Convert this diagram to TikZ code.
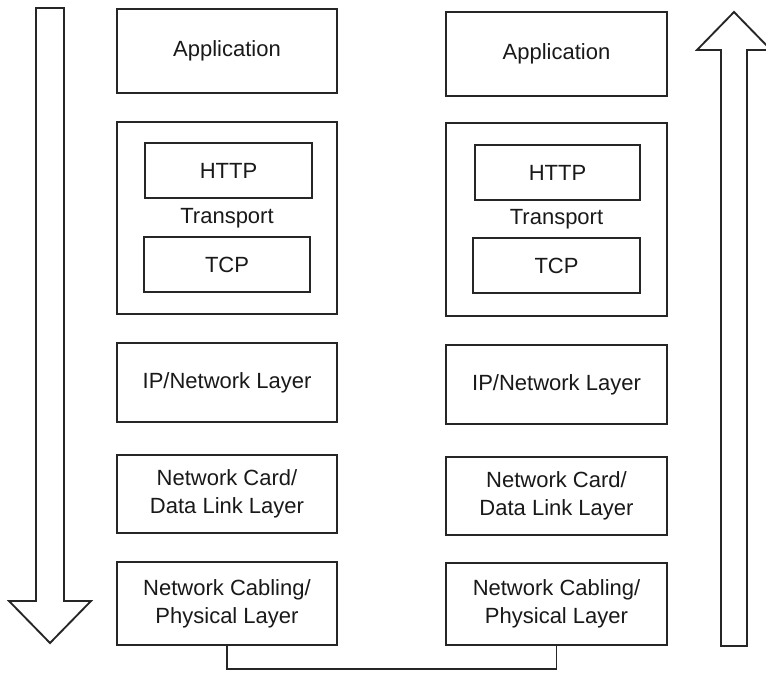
\documentclass[tikz,border=0pt]{standalone}
\usepackage{fontspec}
\setmainfont{Liberation Sans}
\newlength\pxu
\setlength\pxu{0.75pt}
\tikzset{
  layer/.style={draw=black!85, line width=1.4pt, fill=white, rectangle,
    inner sep=0pt, align=center, text=black!90,
    font=\fontsize{16.5}{21}\selectfont},
  flowarrow/.style={draw=black!85, line width=1.4pt, fill=white, line join=miter},
  link/.style={draw=black!85, line width=1.4pt}
}
\begin{document}
\begin{tikzpicture}[x=0.75pt, y=-0.75pt]
  \useasboundingbox (0,0) rectangle (766,673);
  \clip (0,0) rectangle (766,673);

  % sending stack (left)
  \node[layer, minimum width=220\pxu, minimum height=84\pxu]  (lapp)   at (227,51)    {Application};
  \node[layer, minimum width=220\pxu, minimum height=192\pxu] (ltrans) at (227,218)   {Transport};
  \node[layer, minimum width=167\pxu, minimum height=55\pxu]  (lhttp)  at (228.5,170.5) {HTTP};
  \node[layer, minimum width=166\pxu, minimum height=55\pxu]  (ltcp)   at (227,264.5) {TCP};
  \node[layer, minimum width=220\pxu, minimum height=79\pxu]  (lip)    at (227,382.5) {IP/Network Layer};
  \node[layer, minimum width=220\pxu, minimum height=78\pxu]  (lcard)  at (227,494)   {Network Card/\\Data Link Layer};
  \node[layer, minimum width=220\pxu, minimum height=83\pxu]  (lcab)   at (227,603.5) {Network Cabling/\\Physical Layer};

  % receiving stack (right)
  \node[layer, minimum width=221\pxu, minimum height=84\pxu]  (rapp)   at (556.5,54)    {Application};
  \node[layer, minimum width=221\pxu, minimum height=193\pxu] (rtrans) at (556.5,219.5) {Transport};
  \node[layer, minimum width=165\pxu, minimum height=55\pxu]  (rhttp)  at (557.5,172.5) {HTTP};
  \node[layer, minimum width=167\pxu, minimum height=55\pxu]  (rtcp)   at (556.5,265.5) {TCP};
  \node[layer, minimum width=221\pxu, minimum height=79\pxu]  (rip)    at (556.5,384.5) {IP/Network Layer};
  \node[layer, minimum width=221\pxu, minimum height=78\pxu]  (rcard)  at (556.5,496)   {Network Card/\\Data Link Layer};
  \node[layer, minimum width=221\pxu, minimum height=82\pxu]  (rcab)   at (556.5,604)   {Network Cabling/\\Physical Layer};

  % physical link between the two stacks
  \draw[link] (lcab.south) -- ++(0,23) -| (rcab.south);

  % downward flow arrow
  \draw[flowarrow] (36,8) -- (64,8) -- (64,601) -- (91,601) -- (50,643)
    -- (9,601) -- (36,601) -- cycle;

  % upward flow arrow
  \draw[flowarrow] (721,646) -- (747,646) -- (747,50) -- (771,50) -- (734,12)
    -- (697,50) -- (721,50) -- cycle;
\end{tikzpicture}
\end{document}
